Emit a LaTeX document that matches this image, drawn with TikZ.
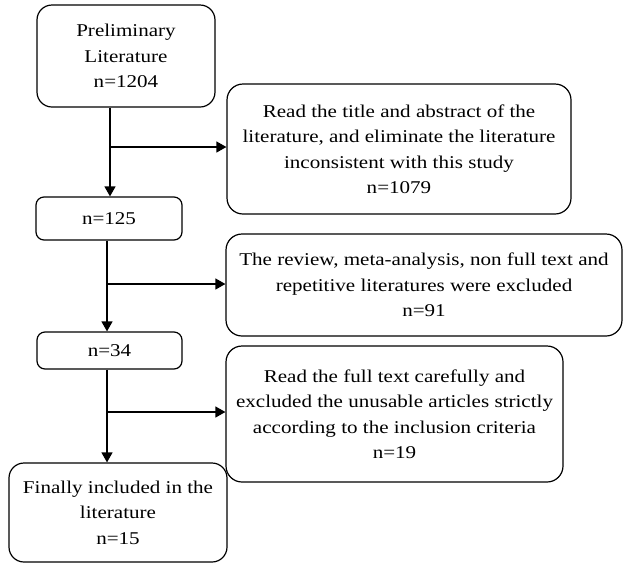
\documentclass[tikz,border=0pt]{standalone}
\usepackage{fontspec}
\setmainfont[FakeStretch=1.17]{Liberation Serif}
\usetikzlibrary{arrows.meta}
\begin{document}
\begin{tikzpicture}[x=1pt,y=-1pt,
  box/.style={draw, line width=1.2pt, align=center, inner sep=0pt,
    font=\fontsize{18}{25.5}\selectfont},
  arr/.style={line width=1.2pt, -{Triangle[length=10pt,width=11pt]}}]
\useasboundingbox (0,0) rectangle (623,563);
\node[box, rounded corners=15pt, minimum width=178pt, minimum height=102pt] (b1) at (126,56) {Preliminary\\Literature\\n=1204};
\node[box, rounded corners=8pt, minimum width=146pt, minimum height=43pt] (b2) at (109,218.5) {n=125};
\node[box, rounded corners=8pt, minimum width=145pt, minimum height=37pt] (b4) at (109.5,350.5) {n=34};
\node[box, rounded corners=15pt, minimum width=218pt, minimum height=99pt] (b7) at (118,512.5) {Finally included in the\\literature\\n=15};
\node[box, rounded corners=16pt, minimum width=344pt, minimum height=130pt] (b3) at (399,149) {Read the title and abstract of the\\literature, and eliminate the literature\\inconsistent with this study\\n=1079};
\node[box, rounded corners=16pt, minimum width=396pt, minimum height=102pt] (b5) at (424,285) {The review, meta-analysis, non full text and\\repetitive literatures were excluded\\n=91};
\node[box, rounded corners=16pt, minimum width=337pt, minimum height=136pt] (b6) at (394.5,414) {Read the full text carefully and\\excluded the unusable articles strictly\\according to the inclusion criteria\\n=19};
\coordinate (j1) at (110,147);
\coordinate (j2) at (107,284);
\coordinate (j3) at (107,412);
\draw[arr] (j1 |- b1.south) -- (j1 |- b2.north);
\draw[arr] (j1) -- (j1 -| b3.west);
\draw[arr] (j2 |- b2.south) -- (j2 |- b4.north);
\draw[arr] (j2) -- (j2 -| b5.west);
\draw[arr] (j3 |- b4.south) -- (j3 |- b7.north);
\draw[arr] (j3) -- (j3 -| b6.west);
\end{tikzpicture}
\end{document}
